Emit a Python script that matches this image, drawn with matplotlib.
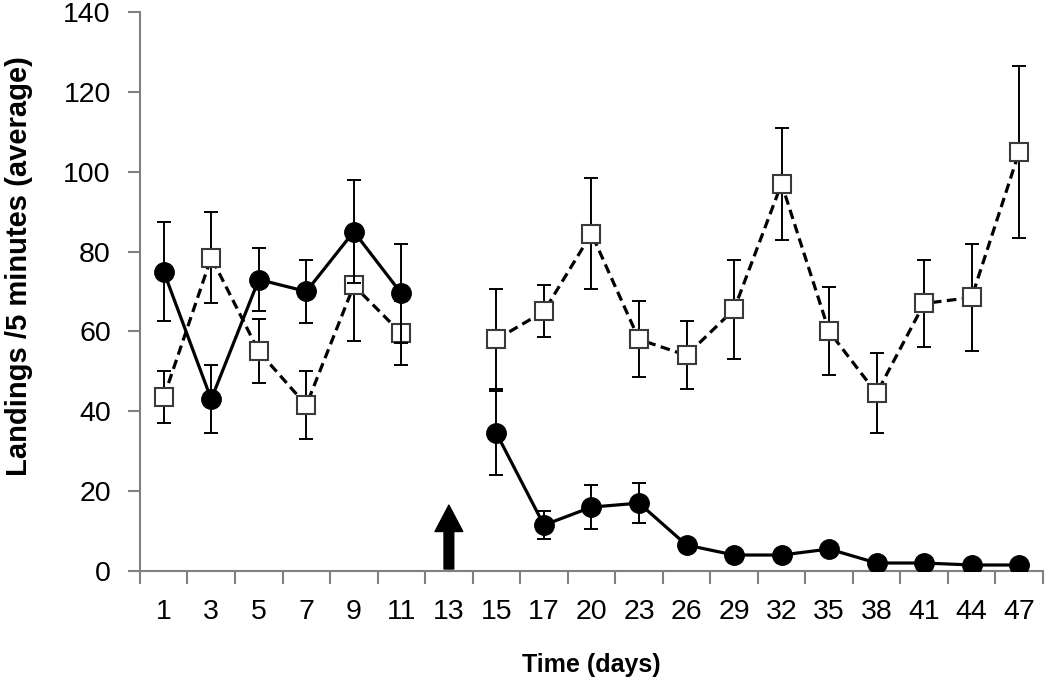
import numpy as np
import matplotlib
matplotlib.use("Agg")
import matplotlib.pyplot as plt
from matplotlib.ticker import FixedLocator, NullFormatter

plt.rcParams['font.family'] = ['Liberation Sans', 'DejaVu Sans']

# --- DATA ---
days = ["1", "3", "5", "7", "9", "11", "13", "15", "17", "20",
        "23", "26", "29", "32", "35", "38", "41", "44", "47"]
nan = np.nan
treated = [75, 43, 73, 70, 85, 69.5, nan, 34.5, 11.5, 16,
           17, 6.5, 4, 4, 5.5, 2, 2, 1.5, 1.5]
treated_err = [12.5, 8.5, 8, 8, 13, 12.5, nan, 10.5, 3.5, 5.5,
               5, 1.5, 0.8, 0.8, 1.2, 0.6, 0.6, 0.5, 0.5]
control = [43.5, 78.5, 55, 41.5, 71.5, 59.5, nan, 58, 65, 84.5,
           58, 54, 65.5, 97, 60, 44.5, 67, 68.5, 105]
control_err = [6.5, 11.5, 8, 8.5, 14, 8, nan, 12.5, 6.5, 14,
               9.5, 8.5, 12.5, 14, 11, 10, 11, 13.5, 21.5]
arrow_day = "13"

x = np.arange(len(days))

fig = plt.figure(figsize=(10.5, 6.8), dpi=100)
ax = fig.add_axes([0.1333, 0.1603, 0.86, 0.8221])

# control (open squares, dashed)
ax.errorbar(x, control, yerr=control_err, fmt='none', ecolor='black',
            elinewidth=1.4, capsize=5, capthick=1.4, zorder=2)
ax.plot(x, control, linestyle=(0, (3.0, 1.7)), color='black', linewidth=2.3,
        marker='s', markersize=13, markerfacecolor='white',
        markeredgecolor='#3a3a3a', markeredgewidth=1.5, zorder=3)

# treated (filled circles, solid)
ax.errorbar(x, treated, yerr=treated_err, fmt='none', ecolor='black',
            elinewidth=1.4, capsize=5, capthick=1.4, zorder=4)
ax.plot(x, treated, linestyle='-', color='black', linewidth=2.3,
        marker='o', markersize=14, markerfacecolor='black',
        markeredgecolor='black', zorder=5)

# arrow marking the treatment day
xa = days.index(arrow_day)
ax.annotate("", xy=(xa, 16.5), xytext=(xa, 0.5),
            arrowprops=dict(facecolor='black', edgecolor='black',
                            width=7, headwidth=20, headlength=19,
                            shrink=0),
            zorder=6)

ax.set_xlim(-0.5, len(days) - 0.5)
ax.set_ylim(0, 140)
ax.set_yticks(np.arange(0, 141, 20))
ax.set_xticks(x)
ax.set_xticklabels(days)
ax.xaxis.set_minor_locator(FixedLocator(np.arange(-0.5, len(days), 1.0)))
ax.xaxis.set_minor_formatter(NullFormatter())

ax.tick_params(axis='x', which='major', length=0, pad=20, labelsize=20.5)
ax.tick_params(axis='x', which='minor', length=9, width=1.5, color='#808080',
               direction='out')
ax.tick_params(axis='y', length=9, width=1.5, color='#808080', labelsize=20.5,
               pad=12)

for side in ['top', 'right']:
    ax.spines[side].set_visible(False)
for side in ['left', 'bottom']:
    ax.spines[side].set_color('#808080')
    ax.spines[side].set_linewidth(1.5)

ax.set_xlabel("Time (days)", fontsize=18, fontweight='bold', labelpad=20)
ax.set_ylabel("Landings /5 minutes (average)", fontsize=21, fontweight='bold')
ax.yaxis.set_label_coords(-0.118, 0.545)

fig.savefig("out.png", dpi=100, facecolor='white')
